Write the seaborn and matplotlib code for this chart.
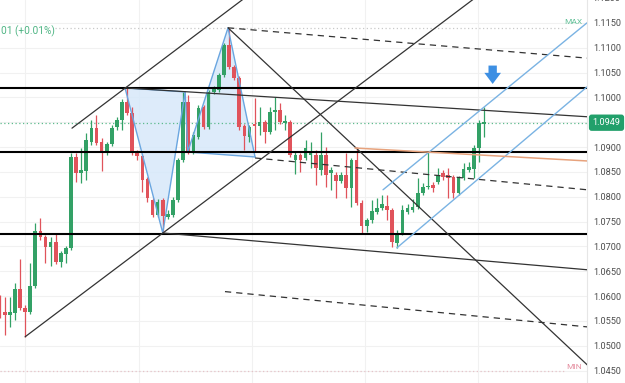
import numpy as np
import pandas as pd
import matplotlib
matplotlib.use("Agg")
import matplotlib.pyplot as plt
import seaborn as sns
from matplotlib.transforms import blended_transform_factory
from matplotlib.patches import Polygon

# ---------------- data ----------------
opens = [1.0592, 1.0568, 1.0562, 1.0566, 1.0615, 1.0576, 1.0568, 1.0621, 1.0731, 1.0719,
         1.0699, 1.0709, 1.0669, 1.0685, 1.0697, 1.0880, 1.0848, 1.0852, 1.0910, 1.0939,
         1.0910, 1.0888, 1.0906, 1.0941, 1.0955, 1.0991, 1.0969, 1.0888, 1.0882, 1.0836,
         1.0794, 1.0763, 1.0794, 1.0759, 1.0763, 1.0794, 1.0874, 1.0991, 1.0890, 1.0920,
         1.0981, 1.0941, 1.1011, 1.1015, 1.1045, 1.1105, 1.1061, 1.1039, 1.0943, 1.0920,
         1.0945, 1.0943, 1.0951, 1.0930, 1.0971, 1.0975, 1.0949, 1.0951, 1.0874, 1.0884,
         1.0878, 1.0884, 1.0884, 1.0854, 1.0884, 1.0848, 1.0844, 1.0832, 1.0844, 1.0818,
         1.0874, 1.0788, 1.0741, 1.0753, 1.0770, 1.0778, 1.0782, 1.0774, 1.0707, 1.0727,
         1.0770, 1.0774, 1.0780, 1.0808, 1.0820, 1.0824, 1.0830, 1.0848, 1.0844, 1.0840,
         1.0808, 1.0838, 1.0854, 1.0856, 1.0898, 1.0947]
highs = [1.0603, 1.0598, 1.0598, 1.0627, 1.0675, 1.0582, 1.0667, 1.0747, 1.0757, 1.0723,
         1.0719, 1.0727, 1.0691, 1.0701, 1.0888, 1.0888, 1.0898, 1.0928, 1.0955, 1.0965,
         1.0918, 1.0910, 1.0945, 1.0961, 1.0997, 1.1019, 1.0981, 1.0894, 1.0886, 1.0840,
         1.0798, 1.0796, 1.0798, 1.0774, 1.0800, 1.0878, 1.1011, 1.1005, 1.0930, 1.0985,
         1.0985, 1.1015, 1.1023, 1.1049, 1.1110, 1.1140, 1.1065, 1.1043, 1.0947, 1.0945,
         1.0999, 1.0981, 1.0955, 1.0981, 1.1001, 1.0989, 1.0965, 1.0955, 1.0890, 1.0888,
         1.0914, 1.0910, 1.0894, 1.0930, 1.0900, 1.0860, 1.0850, 1.0850, 1.0888, 1.0878,
         1.0900, 1.0794, 1.0757, 1.0794, 1.0798, 1.0804, 1.0804, 1.0778, 1.0733, 1.0784,
         1.0786, 1.0796, 1.0838, 1.0828, 1.0890, 1.0830, 1.0858, 1.0854, 1.0858, 1.0844,
         1.0842, 1.0868, 1.0870, 1.0904, 1.0955, 1.0981]
lows = [1.0556, 1.0522, 1.0538, 1.0552, 1.0572, 1.0518, 1.0564, 1.0617, 1.0713, 1.0667,
        1.0661, 1.0665, 1.0659, 1.0667, 1.0693, 1.0830, 1.0828, 1.0834, 1.0904, 1.0904,
        1.0852, 1.0884, 1.0902, 1.0934, 1.0934, 1.0965, 1.0884, 1.0874, 1.0810, 1.0790,
        1.0759, 1.0759, 1.0727, 1.0755, 1.0759, 1.0790, 1.0870, 1.0886, 1.0886, 1.0916,
        1.0937, 1.0937, 1.1007, 1.1011, 1.1041, 1.1057, 1.1035, 1.0934, 1.0894, 1.0910,
        1.0892, 1.0924, 1.0908, 1.0926, 1.0934, 1.0947, 1.0934, 1.0880, 1.0846, 1.0850,
        1.0874, 1.0858, 1.0824, 1.0844, 1.0820, 1.0814, 1.0798, 1.0828, 1.0798, 1.0780,
        1.0784, 1.0725, 1.0729, 1.0747, 1.0765, 1.0774, 1.0753, 1.0699, 1.0697, 1.0723,
        1.0765, 1.0770, 1.0776, 1.0804, 1.0816, 1.0810, 1.0826, 1.0834, 1.0798, 1.0798,
        1.0804, 1.0834, 1.0850, 1.0838, 1.0870, 1.0920]
closes = [1.0568, 1.0562, 1.0568, 1.0615, 1.0576, 1.0568, 1.0621, 1.0731, 1.0719, 1.0699,
          1.0709, 1.0669, 1.0687, 1.0697, 1.0880, 1.0848, 1.0854, 1.0914, 1.0939, 1.0908,
          1.0888, 1.0906, 1.0939, 1.0955, 1.0991, 1.0969, 1.0888, 1.0882, 1.0834, 1.0798,
          1.0763, 1.0790, 1.0761, 1.0765, 1.0794, 1.0874, 1.0991, 1.0890, 1.0924, 1.0979,
          1.0941, 1.1011, 1.1019, 1.1045, 1.1105, 1.1061, 1.1039, 1.0941, 1.0922, 1.0941,
          1.0943, 1.0951, 1.0930, 1.0971, 1.0975, 1.0951, 1.0953, 1.0884, 1.0884, 1.0874,
          1.0898, 1.0888, 1.0858, 1.0884, 1.0844, 1.0854, 1.0832, 1.0844, 1.0818, 1.0874,
          1.0788, 1.0741, 1.0753, 1.0772, 1.0778, 1.0786, 1.0774, 1.0709, 1.0727, 1.0774,
          1.0778, 1.0780, 1.0808, 1.0820, 1.0822, 1.0818, 1.0844, 1.0840, 1.0838, 1.0808,
          1.0838, 1.0856, 1.0860, 1.0898, 1.0949, 1.0949]

last_price = 1.0949
price_ticks = [1.0450, 1.0500, 1.0550, 1.0600, 1.0650, 1.0700, 1.0750, 1.0800,
               1.0850, 1.0900, 1.1000, 1.1050, 1.1100, 1.1150]
max_level = 1.1140
min_level = 1.0450

# horizontal support / resistance levels
levels = [1.1019, 1.0890, 1.0725]

# trend lines: (x0, p0, x1, p1)
solid_black = [(5.0, 1.0518, 96.2, 1.1223),      # lower rising channel line
               (14.2, 1.0938, 49.1, 1.1208),     # upper rising channel line
               (44.8, 1.1140, 118.0, 1.0435),    # falling line from the top
               (24.6, 1.1019, 115.2, 1.0961),    # falling upper line
               (32.0, 1.0727, 115.2, 1.0653)]    # falling lower line
dashed_black = [(44.8, 1.1140, 115.2, 1.1079),
                (50.1, 1.0878, 115.2, 1.0814),
                (44.2, 1.0609, 115.2, 1.0538)]
blue_lines = [(75.2, 1.0814, 115.2, 1.1150),
              (77.9, 1.0697, 115.2, 1.1021)]
orange_line = (69.7, 1.0898, 115.2, 1.0872)

# zig-zag pattern points
pat_x = [24.6, 32.0, 36.4, 36.9, 44.8, 50.1]
pat_p = [1.1019, 1.0727, 1.1011, 1.0890, 1.1140, 1.0880]

arrow_x = 96.7
arrow_top = 1.1064
arrow_bot = 1.1027

# ---------------- style ----------------
GREEN = "#33a166"
RED = "#e0535b"
sns.set_style("white")
plt.rcParams['font.family'] = ['Roboto', 'DejaVu Sans']

fig = plt.figure(figsize=(6.25, 3.83), dpi=100)
ax = fig.add_axes([0, 0, 587 / 625, 1])

df = pd.DataFrame({"open": opens, "high": highs, "low": lows, "close": closes})
df["idx"] = np.arange(len(df))
up = df["close"] >= df["open"]
cols = np.where(up, GREEN, RED)

# grid
for t in price_ticks + [1.0950]:
    ax.axhline(t, color="#f1f1f1", lw=0.8, zorder=0)
for gx in [5.0, 27.3, 49.5, 71.7, 93.9]:
    ax.axvline(gx, color="#f1f1f1", lw=0.8, zorder=0)

# pattern fills
tri1 = Polygon(list(zip(pat_x[0:3], pat_p[0:3])), closed=True,
               facecolor="#d7e8fa", edgecolor="none", alpha=0.85, zorder=1)
tri2 = Polygon(list(zip(pat_x[3:6], pat_p[3:6])), closed=True,
               facecolor="#d7e8fa", edgecolor="none", alpha=0.85, zorder=1)
ax.add_patch(tri1)
ax.add_patch(tri2)

# candles
ax.vlines(df["idx"], df["low"], df["high"], colors=cols, lw=0.9, zorder=3)
body = (df["close"] - df["open"]).abs().clip(lower=0.00025)
bottom = df[["open", "close"]].min(axis=1)
ax.bar(df["idx"], body, bottom=bottom, width=0.72, color=cols, linewidth=0, zorder=4)

# pattern edges
ax.plot(pat_x, pat_p, color="#6aa6e0", lw=1.0, zorder=5)
ax.plot([pat_x[0], pat_x[2]], [pat_p[0], pat_p[2]], color="#6aa6e0", lw=1.0, zorder=5)
ax.plot([pat_x[3], pat_x[5]], [pat_p[3], pat_p[5]], color="#6aa6e0", lw=1.0, zorder=5)

# levels
for lv in levels:
    ax.axhline(lv, color="black", lw=1.5, zorder=6)

for (x0, p0, x1, p1) in solid_black:
    ax.plot([x0, x1], [p0, p1], color="#333333", lw=0.9, zorder=6)
for (x0, p0, x1, p1) in dashed_black:
    ax.plot([x0, x1], [p0, p1], color="#333333", lw=0.9, ls=(0, (5, 4)), zorder=6)
for (x0, p0, x1, p1) in blue_lines:
    ax.plot([x0, x1], [p0, p1], color="#7ab3e3", lw=1.0, zorder=6)
x0, p0, x1, p1 = orange_line
ax.plot([x0, x1], [p0, p1], color="#e7a27c", lw=1.1, zorder=6)

# current price, max, min dotted lines
ax.axhline(last_price, color="#5dbb8e", lw=0.9, ls=(0, (1, 2)), zorder=2)
ax.plot([10.9, 111.0], [max_level, max_level], color="#c9c9c9", lw=0.9, ls=(0, (1, 2)), zorder=2)
ax.plot([0.0, 111.0], [min_level, min_level], color="#e6c3c8", lw=0.9, ls=(0, (1, 2)), zorder=2)
ax.text(114.3, max_level + 0.0012, "MAX", color="#66c29b", fontsize=6, ha="right", va="center")
ax.text(114.3, min_level + 0.0007, "MIN", color="#e58fa0", fontsize=6, ha="right", va="center")

# arrow
ax.annotate("", xy=(arrow_x, arrow_bot), xytext=(arrow_x, arrow_top),
            arrowprops=dict(arrowstyle="simple,head_width=1.2,head_length=0.8,tail_width=0.6",
                            color="#3d8fe3", lw=0, shrinkA=0, shrinkB=0), zorder=7)

# top-left header text (cut off)
ax.text(0.3, 1.1134, "01 (+0.01%)", color="#4fb584", fontsize=7.3, ha="left", va="center")

ax.set_xlim(0.08, 115.2)
ax.set_ylim(1.0425, 1.1196)
ax.set_xticks([])
ax.yaxis.tick_right()
ax.set_yticks(price_ticks)
ax.set_yticklabels([f"{t:.4f}" for t in price_ticks])
ax.tick_params(axis="y", length=0, pad=4.3, labelsize=6.6, labelcolor="#4d4d4d")
for s in ["top", "left", "bottom"]:
    ax.spines[s].set_visible(False)
ax.spines["right"].set_color("#e6e6e6")
ax.spines["right"].set_linewidth(0.8)

trans = blended_transform_factory(ax.transAxes, ax.transData)
ax.text(1.0095, last_price, f"{last_price:.4f}", transform=trans, color="white",
        fontsize=6.6, ha="left", va="center", zorder=10,
        bbox=dict(boxstyle="round,pad=0.4,rounding_size=0.3", fc="#22a06b", ec="none"),
        clip_on=False)
ax.text(1.0095, 1.1200, "1.1200", transform=trans, color="#4d4d4d", fontsize=6.6,
        ha="left", va="center", clip_on=False)

fig.savefig("out.png", dpi=100)
